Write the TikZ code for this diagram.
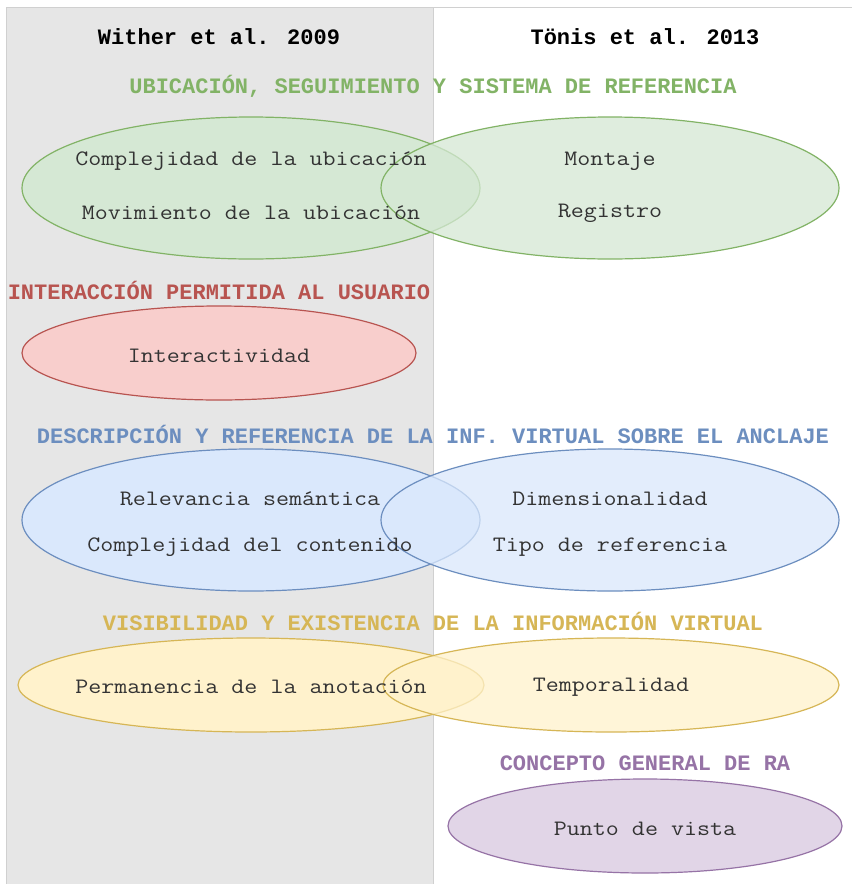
\documentclass[tikz,border=0pt]{standalone}
\usepackage{fontspec}
\setmainfont{Liberation Mono}
\usetikzlibrary{shapes.geometric}
\definecolor{colgrey}{HTML}{E6E6E6}
\definecolor{colframe}{HTML}{D0D0D0}
\definecolor{gfill}{HTML}{D5E8D4}\definecolor{gline}{HTML}{82B366}
\definecolor{rfill}{HTML}{F8CECC}\definecolor{rline}{HTML}{B85450}
\definecolor{bfill}{HTML}{DAE8FC}\definecolor{bline}{HTML}{6C8EBF}
\definecolor{yfill}{HTML}{FFF2CC}\definecolor{yline}{HTML}{D6B656}
\definecolor{pfill}{HTML}{E1D5E7}\definecolor{pline}{HTML}{9673A6}
\definecolor{itemtext}{HTML}{333333}
% typewriter text widened to the pitch of the headings
\newcommand{\wtt}[1]{\scalebox{1.148}[1]{#1}}
\begin{document}
\begin{tikzpicture}[x=1pt,y=-1pt,
  txt/.style={font=\fontsize{22}{26}\selectfont, inner sep=0pt, anchor=center},
  head/.style={txt, font=\fontsize{22}{26}\selectfont\bfseries},
  item/.style={inner sep=0pt, anchor=center, text=itemtext,
    font=\ttfamily\fontsize{22}{26}\selectfont},
  blob/.style={ellipse, draw, line width=1.2pt, inner sep=0pt},
  big/.style={blob, minimum width=458pt, minimum height=142pt},
  small/.style={blob, minimum width=394pt, minimum height=94pt},
  over/.style={fill opacity=0.75},
]
\useasboundingbox (0,0) rectangle (852,884);
\fill[white] (0,0) rectangle (852,884);
% left column and frame
\fill[colgrey] (6,7) rectangle (433,884);
\draw[colframe, line width=1pt] (6,884) -- (6,7) -- (852,7);
\draw[colframe, line width=1pt] (433,7) -- (433,884);

% column headings
\node[head] (hw) at (219,37) {Wither et al. 2009};
\node[head] (ht) at (645,37) {Tönis et al. 2013};

% location, tracking and reference frame
\node[head, text=gline] (tg) at (433,86) {UBICACIÓN, SEGUIMIENTO Y SISTEMA DE REFERENCIA};
\node[big, fill=gfill, draw=gline] (gl) at (251,188) {};
\node[big, fill=gfill, draw=gline, over] (gr) at (610,188) {};
\node[item] (g1) at (251,161) {\wtt{Complejidad de la ubicación}};
\node[item] (g2) at (251,213) {\wtt{Movimiento de la ubicación}};
\node[item] (g3) at (610,161) {\wtt{Montaje}};
\node[item] (g4) at (610,213) {\wtt{Registro}};

% user interaction
\node[head, text=rline] (tr) at (219,290) {INTERACCIÓN PERMITIDA AL USUARIO};
\node[small, fill=rfill, draw=rline] (rl) at (219,353) {};
\node[item] (r1) at (219,356) {\wtt{Interactividad}};

% description and reference of virtual information
\node[head, text=bline] (tb) at (433,434) {DESCRIPCIÓN Y REFERENCIA DE LA INF. VIRTUAL SOBRE EL ANCLAJE};
\node[big, fill=bfill, draw=bline] (bl) at (251,520) {};
\node[big, fill=bfill, draw=bline, over] (br) at (610,520) {};
\node[item] (b1) at (250,499) {\wtt{Relevancia semántica}};
\node[item] (b2) at (250,547) {\wtt{Complejidad del contenido}};
\node[item] (b3) at (610,499) {\wtt{Dimensionalidad}};
\node[item] (b4) at (610,547) {\wtt{Tipo de referencia}};

% visibility and existence
\node[head, text=yline] (ty) at (433,621) {VISIBILIDAD Y EXISTENCIA DE LA INFORMACIÓN VIRTUAL};
\node[blob, fill=yfill, draw=yline, minimum width=466pt, minimum height=94pt] (yl) at (251,685) {};
\node[blob, fill=yfill, draw=yline, over, minimum width=456pt, minimum height=94pt] (yr) at (611,685) {};
\node[item] (y1) at (251,687) {\wtt{Permanencia de la anotación}};
\node[item] (y2) at (611,687) {\wtt{Temporalidad}};

% general AR concept
\node[head, text=pline] (tp) at (645,763) {CONCEPTO GENERAL DE RA};
\node[small, fill=pfill, draw=pline] (pl) at (645,826) {};
\node[item] (p1) at (645,829) {\wtt{Punto de vista}};
\end{tikzpicture}
\end{document}
